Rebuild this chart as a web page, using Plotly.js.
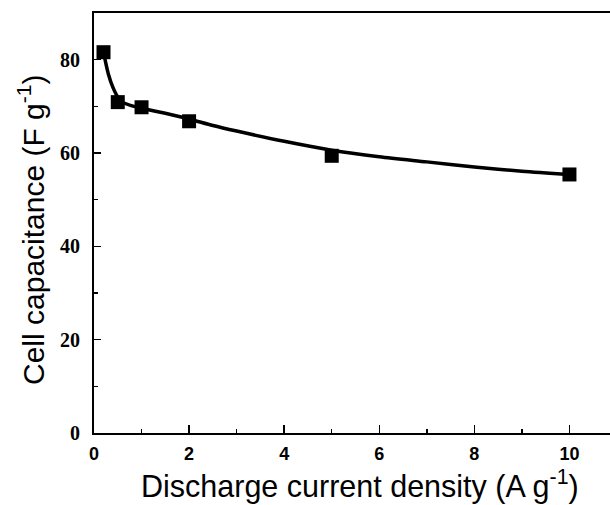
<!DOCTYPE html>
<html>
<head>
<meta charset="utf-8">
<script src="https://cdn.plot.ly/plotly-3.0.1.min.js"></script>
<style>
  html, body { margin: 0; padding: 0; background: #fff; overflow: hidden; }
  #chart { width: 625px; height: 505px; }
</style>
</head>
<body>
<div id="chart"></div>
<script>
// Measured data points
const currentDensity = [0.2, 0.5, 1, 2, 5, 10];
const capacitance = [81.6, 70.9, 69.8, 66.8, 59.4, 55.4];

// Fitted curve
const fitX = [0.2, 0.3, 0.4, 0.5, 0.6, 0.8, 1, 1.5, 2, 2.5, 3, 4, 5, 6, 7, 8, 9, 10];
const fitY = [81.6, 77.0, 74.0, 72.0, 70.9, 70.1, 69.6, 68.5, 67.3, 65.9, 64.7, 62.5, 60.6, 59.2, 58.1, 57.0, 56.1, 55.4];

// Tick values
const xTicks = [0, 2, 4, 6, 8, 10];
const yTicks = [0, 20, 40, 60, 80];

// Titles
const xTitle = 'Discharge current density (A g<sup>-1</sup>)';
const yTitle = 'Cell capacitance (F g<sup>-1</sup>)';

const traces = [
  {
    x: fitX, y: fitY, type: 'scatter', mode: 'lines',
    line: { color: '#000', width: 3.5, shape: 'spline', smoothing: 0.8 },
    hoverinfo: 'skip', showlegend: false
  },
  {
    x: currentDensity, y: capacitance, type: 'scatter', mode: 'markers',
    marker: { symbol: 'square', size: 14, color: '#000' },
    showlegend: false
  }
];

const titleFont = { family: 'Liberation Sans, Arial, sans-serif', color: '#000' };

const layout = {
  width: 625, height: 505,
  margin: { l: 94, r: 8, t: 13, b: 72 },
  paper_bgcolor: '#fff', plot_bgcolor: '#fff',
  showlegend: false,
  xaxis: {
    range: [0, 11], tickvals: xTicks, ticktext: xTicks.map(String),
    ticks: 'inside', ticklen: 8, tickwidth: 1.5, tickcolor: '#000',
    minor: { dtick: 1, ticks: 'inside', ticklen: 4, tickwidth: 1.5, tickcolor: '#000' },
    showline: true, linewidth: 2, linecolor: '#000', mirror: true,
    showgrid: false, zeroline: false,
    tickfont: { family: 'Liberation Sans, Arial, sans-serif', size: 18, color: '#000', weight: 'bold' },
    ticklabelstandoff: 3
  },
  yaxis: {
    range: [0, 90], tickvals: yTicks, ticktext: yTicks.map(String),
    ticks: 'inside', ticklen: 7, tickwidth: 1.5, tickcolor: '#000',
    minor: { dtick: 10, ticks: 'inside', ticklen: 4, tickwidth: 1.5, tickcolor: '#000' },
    showline: true, linewidth: 2, linecolor: '#000', mirror: true,
    showgrid: false, zeroline: false,
    tickfont: { family: 'Liberation Serif, Times New Roman, serif', size: 20, color: '#000', weight: 'bold' },
    ticklabelstandoff: 8
  },
  annotations: [
    {
      text: xTitle, xref: 'paper', yref: 'paper',
      x: (360 - 94) / 523, y: -(484 - 433) / 420,
      xanchor: 'center', yanchor: 'middle', showarrow: false,
      font: Object.assign({ size: 30.5 }, titleFont)
    },
    {
      text: yTitle, xref: 'paper', yref: 'paper',
      x: (31 - 94) / 523, y: (433 - 230) / 420,
      xanchor: 'center', yanchor: 'middle', showarrow: false, textangle: -90,
      font: Object.assign({ size: 30 }, titleFont)
    }
  ]
};

Plotly.newPlot('chart', traces, layout, { displayModeBar: false, staticPlot: true });
</script>
</body>
</html>
